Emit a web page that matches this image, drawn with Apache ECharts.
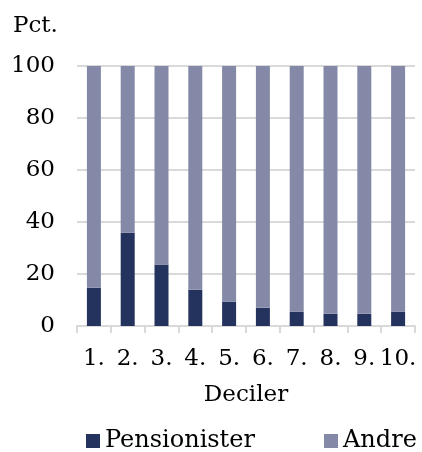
<!DOCTYPE html>
<html>
<head>
<meta charset="utf-8">
<script src="https://cdn.jsdelivr.net/npm/echarts@6/dist/echarts.min.js"></script>
<style>
  html, body { margin: 0; padding: 0; background: #fff; }
  #chart { width: 422px; height: 452px; }
</style>
</head>
<body>
<div id="chart"></div>
<script>
// Share of each income decile, in percent
const deciles = ['1.', '2.', '3.', '4.', '5.', '6.', '7.', '8.', '9.', '10.'];
const pensionister = [14.7, 35.9, 23.6, 14.0, 9.4, 7.0, 5.5, 4.7, 4.7, 5.5];
const andre = pensionister.map(v => +(100 - v).toFixed(1));
const yTicks = [0, 20, 40, 60, 80, 100];

const FONT = 'DejaVu Serif';
const SIZE = 23;
const legendText = { fontFamily: FONT, fontSize: 24, color: '#000' };

const chart = echarts.init(document.getElementById('chart'));
chart.setOption({
  animation: false,
  textStyle: { fontFamily: FONT, color: '#000' },
  grid: { left: 77, right: 7, top: 66, bottom: 126 },
  title: {
    text: 'Pct.', left: 13, top: 15, padding: 0,
    textStyle: { fontFamily: FONT, fontSize: SIZE, fontWeight: 'normal', color: '#000' }
  },
  legend: [
    {
      top: 429, left: 86, padding: 0,
      itemWidth: 14, itemHeight: 14, icon: 'rect',
      textStyle: legendText,
      data: ['Pensionister']
    },
    {
      top: 429, left: 324, padding: 0,
      itemWidth: 14, itemHeight: 14, icon: 'rect',
      textStyle: legendText,
      data: ['Andre']
    }
  ],
  xAxis: {
    type: 'category',
    data: deciles,
    name: 'Deciler',
    nameLocation: 'middle',
    nameGap: 58,
    nameTextStyle: { fontFamily: FONT, fontSize: SIZE, color: '#000' },
    axisLine: { lineStyle: { color: '#d9d9d9', width: 2 } },
    axisTick: { show: true, length: 7, lineStyle: { color: '#d9d9d9', width: 2 } },
    axisLabel: { fontFamily: FONT, fontSize: SIZE, color: '#000', margin: 22, interval: 0 }
  },
  yAxis: {
    type: 'value',
    min: yTicks[0], max: yTicks[yTicks.length - 1], interval: 20,
    axisLine: { show: false },
    axisTick: { show: false },
    splitLine: { lineStyle: { color: '#d9d9d9', width: 2 } },
    axisLabel: { fontFamily: FONT, fontSize: SIZE, color: '#000', margin: 22 }
  },
  series: [
    {
      name: 'Pensionister', type: 'bar', stack: 'total',
      data: pensionister, barWidth: 14,
      itemStyle: { color: '#24335e' }
    },
    {
      name: 'Andre', type: 'bar', stack: 'total',
      data: andre, barWidth: 14,
      itemStyle: { color: '#8489a7' }
    }
  ]
});
</script>
</body>
</html>
